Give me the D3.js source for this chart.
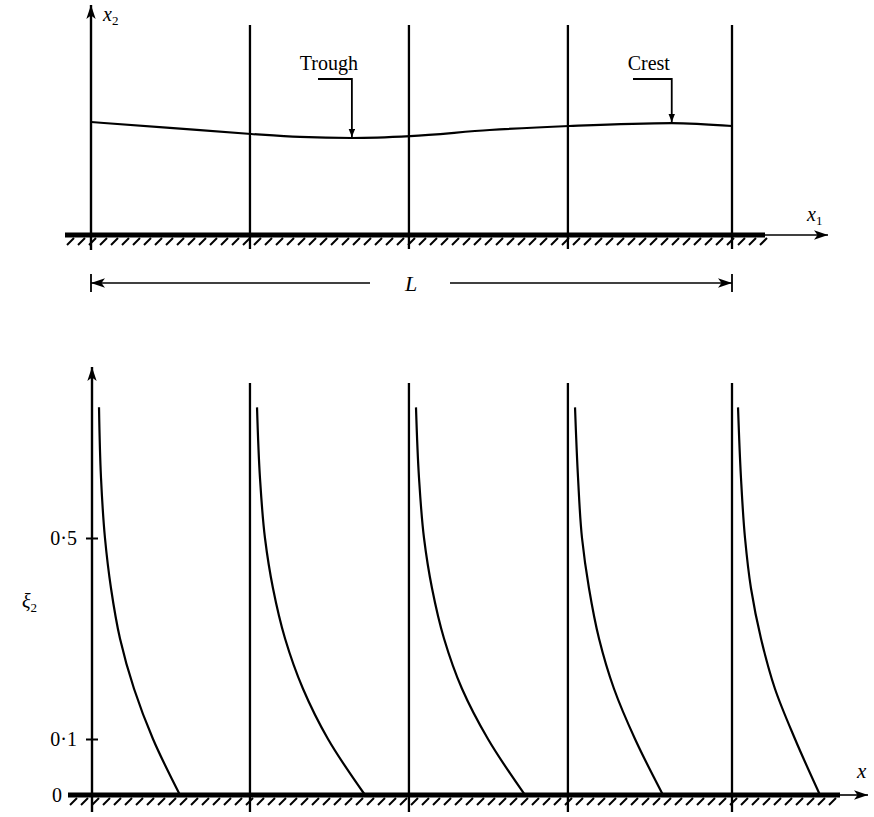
<!DOCTYPE html>
<html><head><meta charset="utf-8">
<script src="https://cdn.jsdelivr.net/npm/d3@7"></script>
<style>
body{margin:0;background:#fff}
svg{display:block}
text{font-family:"Liberation Serif","DejaVu Serif",serif;fill:#000}
</style>
</head><body>
<svg id="c" width="874" height="817"></svg>
<script>
// ---- data ----
const stations = [0, 0.248, 0.496, 0.744, 1.0];
const waveX = [0, 0.123, 0.25, 0.326, 0.407, 0.498, 0.622, 0.746, 0.906, 1.0];
const waveH = [0.538, 0.510, 0.481, 0.467, 0.462, 0.471, 0.500, 0.519, 0.533, 0.519];
const troughX = 0.407, troughH = 0.462;
const crestX = 0.906, crestH = 0.533;
const xiLevels = [0.76, 0.62, 0.5, 0.4, 0.3, 0.2, 0.1, 0];
const curve1 = [0.0125, 0.0156, 0.0218, 0.0312, 0.0452, 0.0671, 0.0967, 0.1388];
const curve2 = [0.259, 0.2636, 0.2714, 0.2839, 0.3027, 0.3307, 0.3697, 0.4275];
const curve3 = [0.507, 0.5117, 0.5195, 0.532, 0.5507, 0.5788, 0.6193, 0.677];
const curve4 = [0.7551, 0.7598, 0.766, 0.7769, 0.7925, 0.8159, 0.8487, 0.8924];
const curve5 = [1.0094, 1.014, 1.0203, 1.0296, 1.0452, 1.067, 1.0983, 1.1373];
const yTickValues = [0, 0.1, 0.5];
const yTickLabels = ["0", "0·1", "0·5"];

// ---- scales ----
const svg = d3.select("#c");
const x = d3.scaleLinear().domain([0, 1]).range([91, 732]);
const hTop = d3.scaleLinear().domain([0, 1]).range([235, 25]);
const yBot = d3.scaleLinear().domain([0, 0.1, 0.5]).range([795, 739, 538]);

const defs = svg.append("defs");
defs.append("marker").attr("id", "ah").attr("viewBox", "0 0 12 8")
  .attr("refX", 12).attr("refY", 4).attr("markerWidth", 14).attr("markerHeight", 10)
  .attr("markerUnits", "userSpaceOnUse").attr("orient", "auto")
  .append("path").attr("d", "M0,0 L12,4 L0,8 L3,4 z").attr("fill", "#000");
defs.append("marker").attr("id", "sm").attr("viewBox", "0 0 10 8")
  .attr("refX", 10).attr("refY", 4).attr("markerWidth", 8).attr("markerHeight", 7)
  .attr("markerUnits", "userSpaceOnUse").attr("orient", "auto")
  .append("path").attr("d", "M0,0 L10,4 L0,8 z").attr("fill", "#000");

function bed(g, yb, x0, x1, xEnd) {
  g.append("line").attr("x1", x0).attr("x2", x1).attr("y1", yb).attr("y2", yb)
    .attr("stroke", "#000").attr("stroke-width", 5);
  g.append("line").attr("x1", x1).attr("x2", xEnd).attr("y1", yb).attr("y2", yb)
    .attr("stroke", "#000").attr("stroke-width", 1.6).attr("marker-end", "url(#ah)");
  g.selectAll("line.h").data(d3.range(x0 + 2, x1 - 4, 11)).enter().append("line")
    .attr("class", "h")
    .attr("x1", d => d).attr("y1", yb + 10).attr("x2", d => d + 7).attr("y2", yb + 3)
    .attr("stroke", "#000").attr("stroke-width", 2);
}

// ---- top panel ----
const topG = svg.append("g");
bed(topG, hTop(0), 65, 765, 828);
topG.append("line").attr("x1", x(0)).attr("x2", x(0)).attr("y1", 250).attr("y2", 5)
  .attr("stroke", "#000").attr("stroke-width", 2.4).attr("marker-end", "url(#ah)");
topG.selectAll("line.st").data(stations.slice(1)).enter().append("line").attr("class", "st")
  .attr("x1", d => x(d)).attr("x2", d => x(d)).attr("y1", hTop(1)).attr("y2", 249)
  .attr("stroke", "#000").attr("stroke-width", 2.3);
topG.append("path").datum(waveX.map((d, i) => [d, waveH[i]]))
  .attr("d", d3.line().x(d => x(d[0])).y(d => hTop(d[1])).curve(d3.curveMonotoneX))
  .attr("fill", "none").attr("stroke", "#000").attr("stroke-width", 2.2);
function leader(px, ph, lx, label) {
  const ty = 79;
  topG.append("path").attr("d", `M${lx},${ty} L${x(px)},${ty} L${x(px)},${hTop(ph) - 1}`)
    .attr("fill", "none").attr("stroke", "#000").attr("stroke-width", 1.8).attr("marker-end", "url(#sm)");
  topG.append("text").attr("x", x(px) - 23).attr("y", 70).attr("text-anchor", "middle")
    .attr("font-size", 20).text(label);
}
leader(troughX, troughH, 318, "Trough");
leader(crestX, crestH, 633, "Crest");
topG.append("text").attr("x", 103).attr("y", 21).attr("font-size", 20).attr("font-style", "italic")
  .html('x<tspan dy="4" font-size="13" font-style="normal">2</tspan>');
topG.append("text").attr("x", 807).attr("y", 221).attr("font-size", 20).attr("font-style", "italic")
  .html('x<tspan dy="4" font-size="13" font-style="normal">1</tspan>');
const Ly = 283;
topG.append("line").attr("x1", x(0)).attr("x2", x(0)).attr("y1", Ly - 9).attr("y2", Ly + 9).attr("stroke", "#000").attr("stroke-width", 1.8);
topG.append("line").attr("x1", x(1)).attr("x2", x(1)).attr("y1", Ly - 9).attr("y2", Ly + 9).attr("stroke", "#000").attr("stroke-width", 1.8);
topG.append("line").attr("x1", 370).attr("x2", x(0)).attr("y1", Ly).attr("y2", Ly)
  .attr("stroke", "#000").attr("stroke-width", 1.7).attr("marker-end", "url(#ah)");
topG.append("line").attr("x1", 450).attr("x2", x(1)).attr("y1", Ly).attr("y2", Ly)
  .attr("stroke", "#000").attr("stroke-width", 1.7).attr("marker-end", "url(#ah)");
topG.append("text").attr("x", 411).attr("y", Ly + 8).attr("text-anchor", "middle")
  .attr("font-size", 22).attr("font-style", "italic").text("L");

// ---- bottom panel ----
const bot = svg.append("g");
bed(bot, yBot(0), 68, 840, 868);
bot.append("line").attr("x1", 92).attr("x2", 92).attr("y1", 812).attr("y2", 367)
  .attr("stroke", "#000").attr("stroke-width", 2.4).attr("marker-end", "url(#ah)");
bot.selectAll("line.st").data(stations.slice(1)).enter().append("line").attr("class", "st")
  .attr("x1", d => x(d)).attr("x2", d => x(d)).attr("y1", 383).attr("y2", 812)
  .attr("stroke", "#000").attr("stroke-width", 2.3);
const ax = d3.axisLeft(yBot).tickValues(yTickValues)
  .tickFormat((d, i) => yTickLabels[i]).tickSize(6).tickPadding(10);
const axg = bot.append("g").attr("transform", "translate(92,0)").call(ax);
axg.select(".domain").remove();
axg.selectAll(".tick line").attr("x2", -6).attr("x1", 6).attr("stroke-width", 2)
  .filter(d => d === 0).remove();
axg.selectAll(".tick text").attr("font-family", '"Liberation Serif",serif').attr("font-size", 20)
  .attr("fill", "#000").attr("x", d => d === 0 ? -30 : -15);
[curve1, curve2, curve3, curve4, curve5].forEach(c => {
  bot.append("path").datum(c.map((v, i) => [v, xiLevels[i]]))
    .attr("d", d3.line().x(d => x(d[0])).y(d => yBot(d[1])).curve(d3.curveMonotoneY))
    .attr("fill", "none").attr("stroke", "#000").attr("stroke-width", 2.2);
});
bot.append("text").attr("x", 22).attr("y", 608).attr("font-size", 20).attr("font-style", "italic")
  .html('ξ<tspan dy="4" font-size="13" font-style="normal">2</tspan>');
bot.append("text").attr("x", 857).attr("y", 778).attr("font-size", 21).attr("font-style", "italic").text("x");
</script>
</body></html>
